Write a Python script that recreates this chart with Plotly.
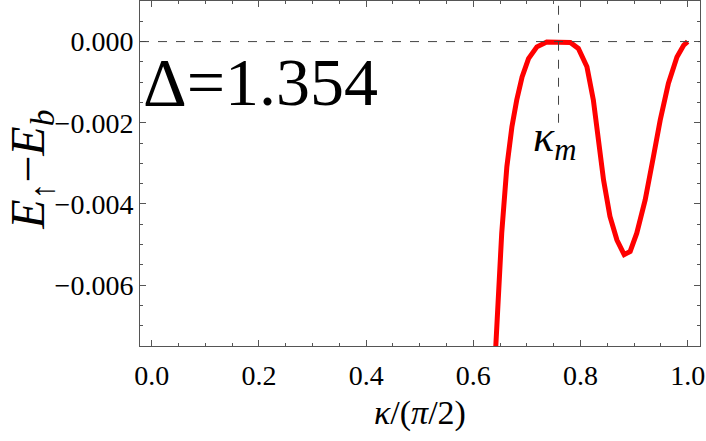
import plotly.graph_objects as go

# data (kappa in units of pi/2)
kappa = [0.636, 0.642, 0.653, 0.6626, 0.672, 0.681, 0.691, 0.703, 0.7186, 0.737,
         0.759, 0.781, 0.796, 0.812, 0.824, 0.8335, 0.843, 0.855, 0.868, 0.8815,
         0.8927, 0.905, 0.9207, 0.936, 0.9487, 0.964, 0.98, 0.9925, 1.0]
energy = [-0.0090, -0.0075, -0.00472, -0.00308, -0.0021, -0.00144, -0.00087, -0.00042, -0.00013, -0.00001,
          0.0, -0.00002, -0.00017, -0.00062, -0.00144, -0.00243, -0.00341, -0.00431, -0.00489, -0.00525,
          -0.00517, -0.00472, -0.0039, -0.00284, -0.00194, -0.00103, -0.00038, -0.00009, 0.0]
kappa_m = 0.759
delta_label = "Δ=1.354"
x_ticks = [0.0, 0.2, 0.4, 0.6, 0.8, 1.0]
y_ticks = [0.0, -0.002, -0.004, -0.006]

serif = "Liberation Serif, Times New Roman, serif"
frame = "#555555"

fig = go.Figure()
fig.add_trace(go.Scatter(x=kappa, y=energy, mode='lines',
                         line=dict(color='#ff0000', width=5), showlegend=False))

# reference lines
fig.add_shape(type='line', xref='paper', yref='y', x0=0, x1=1, y0=0, y1=0,
              line=dict(color='#444444', width=1, dash='dash'))
fig.add_shape(type='line', xref='x', yref='y', x0=kappa_m, x1=kappa_m, y0=-0.002, y1=0.001,
              line=dict(color='#444444', width=1, dash='dash'))

fig.add_annotation(x=kappa_m - 0.008, y=-0.00242, xref='x', yref='y', showarrow=False,
                   text="<i>κ</i><sub><i>m</i></sub>", font=dict(family=serif, size=44, color='black'))
fig.add_annotation(x=0.002, y=0.765, xref='paper', yref='paper', xanchor='left', yanchor='middle',
                   showarrow=False, text=delta_label, font=dict(family=serif, size=68, color='black'))

# axis titles
fig.add_annotation(x=0.5, y=-0.255, xref='paper', yref='paper', showarrow=False,
                   text="<i>κ</i>/(<i>π</i>/2)", font=dict(family=serif, size=34, color='black'))
fig.add_annotation(x=-0.195, y=0.51, xref='paper', yref='paper', xanchor='center', yanchor='middle',
                   showarrow=False, textangle=-90,
                   text="<i>E</i><sub>↑</sub>−<i>E</i><sub><i>b</i></sub>",
                   font=dict(family=serif, size=48, color='black'))

axis_common = dict(showgrid=False, zeroline=False, showline=True, linecolor=frame, linewidth=1,
                   mirror='allticks', ticks='inside', ticklen=6, tickcolor=frame, tickwidth=1,
                   automargin=False, tickfont=dict(family=serif, size=28, color='black'))

fig.update_xaxes(range=[-0.022, 1.023], tickvals=x_ticks, ticktext=[f"{v:.1f}" for v in x_ticks],
                 minor=dict(dtick=0.05, tick0=0, ticks='inside', ticklen=3, tickcolor=frame),
                 ticklabelstandoff=4, **axis_common)
fig.update_yaxes(range=[-0.0075, 0.001], tickvals=y_ticks,
                 ticktext=["0.000" if v == 0 else f"−{abs(v):.3f}" for v in y_ticks],
                 minor=dict(dtick=0.0005, tick0=0, ticks='inside', ticklen=3, tickcolor=frame),
                 **axis_common)

fig.update_layout(width=706, height=441, margin=dict(l=140, r=6, t=1, b=95, autoexpand=False),
                  plot_bgcolor='white', paper_bgcolor='white')

# the page body has a default 8px margin; drop it so the figure sits at the corner
fig.write_html("out.html", config={'displayModeBar': False},
               post_script="document.body.style.margin='0px';")
